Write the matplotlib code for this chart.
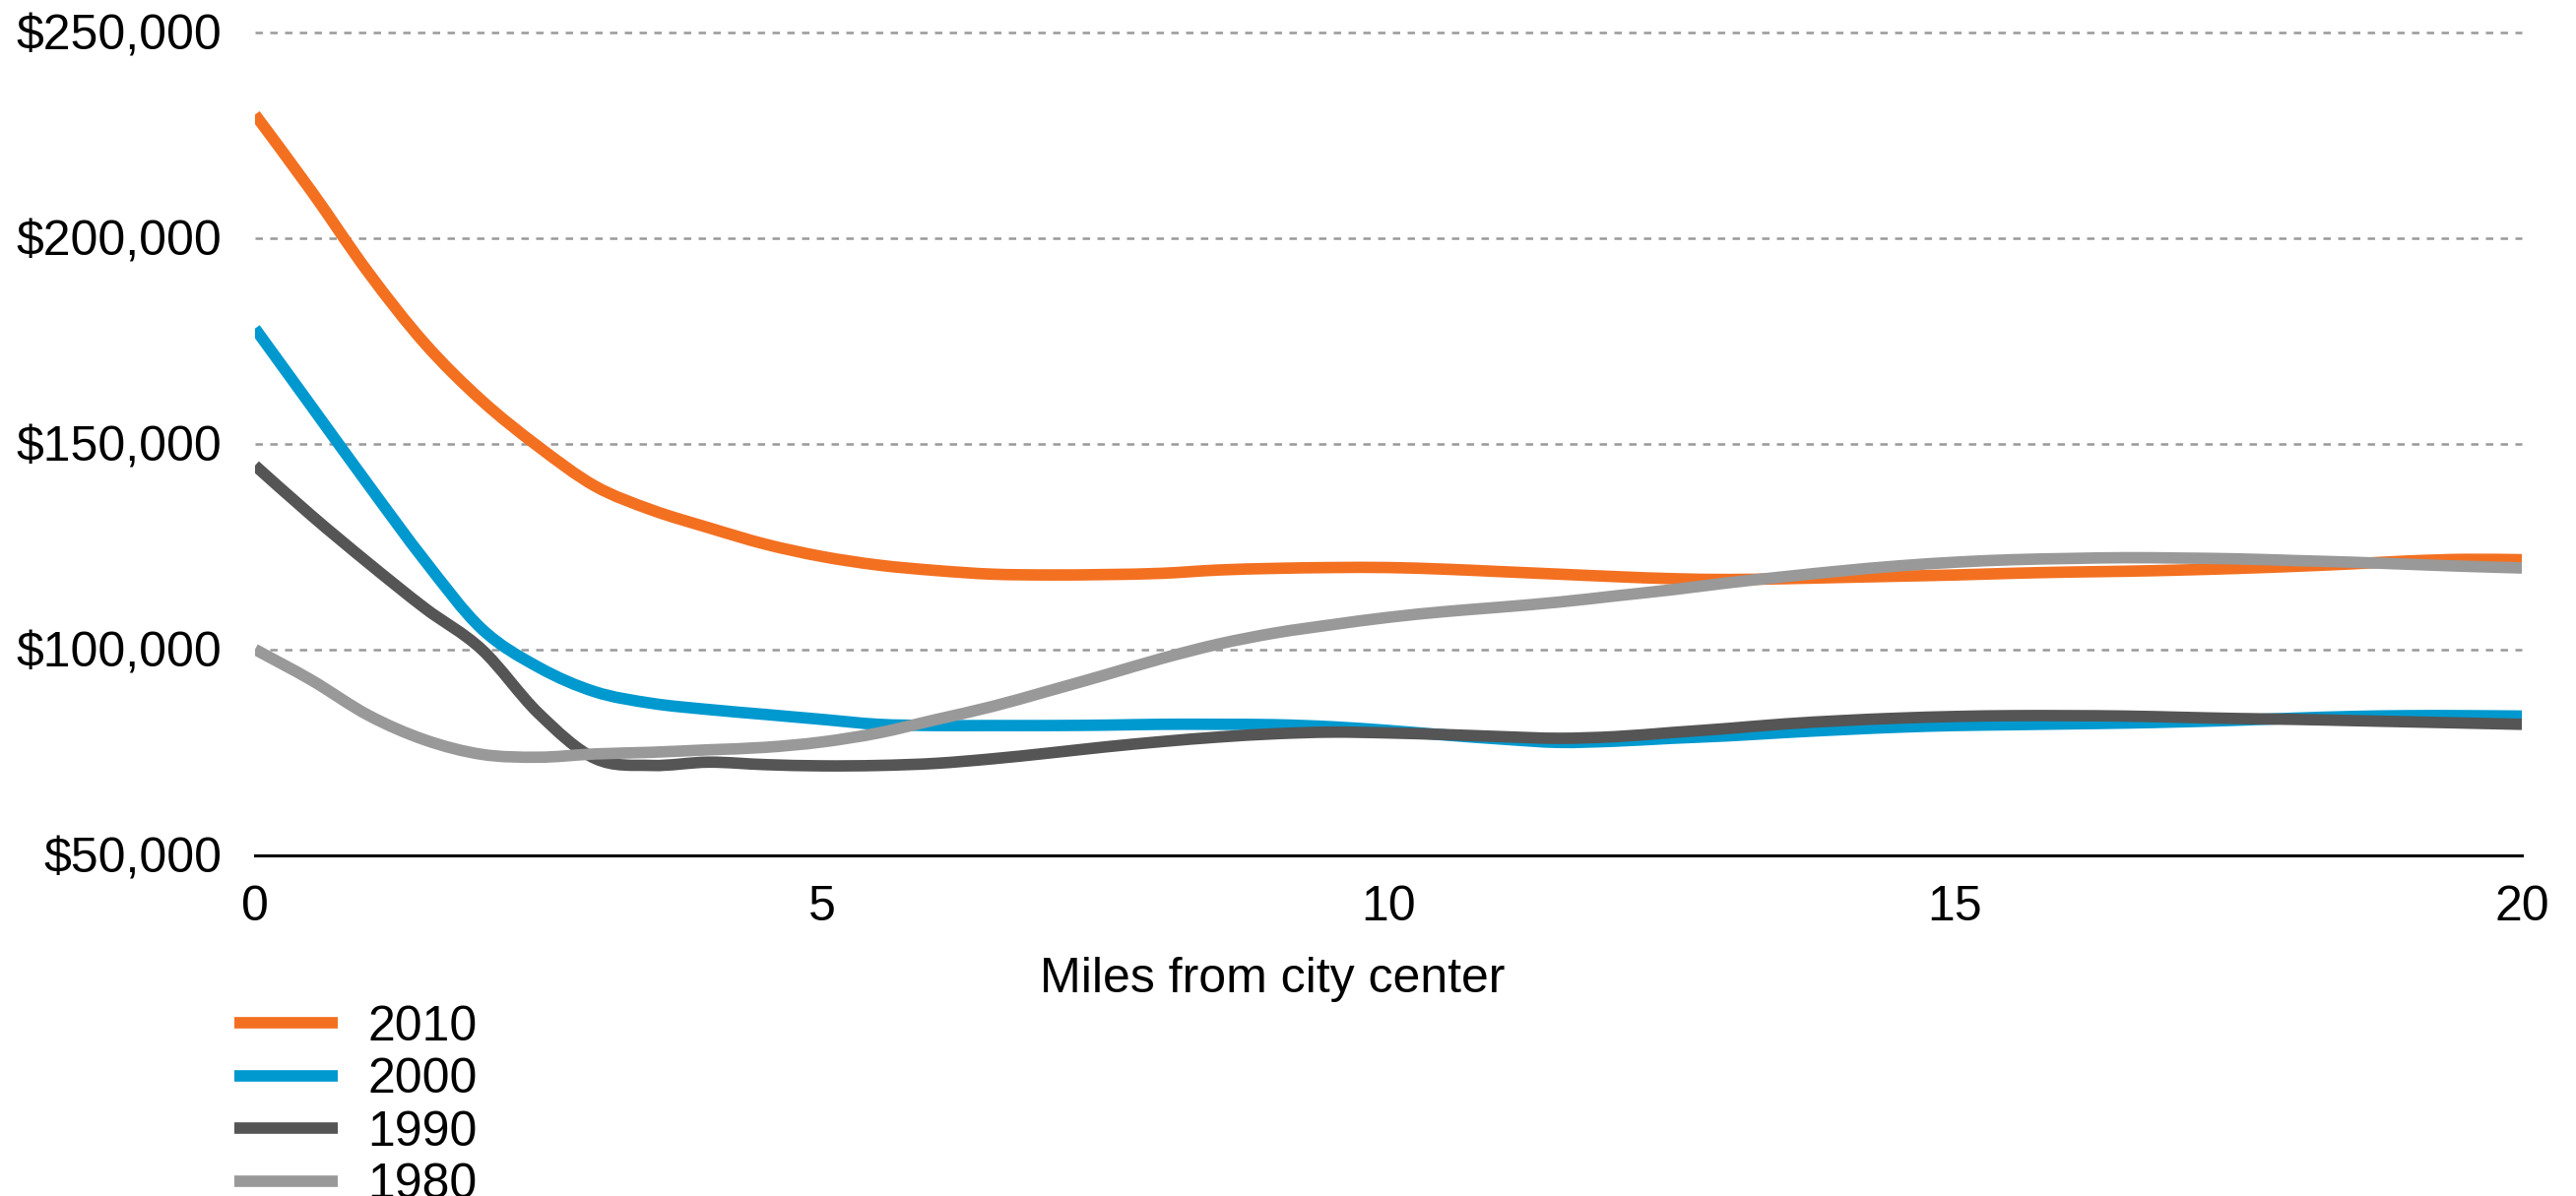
import matplotlib
matplotlib.use("Agg")
import matplotlib.pyplot as plt
from matplotlib.ticker import FuncFormatter
from matplotlib.path import Path
from matplotlib.patches import PathPatch
from matplotlib.lines import Line2D

plt.rcParams['font.family'] = ['Liberation Sans', 'DejaVu Sans']

# Distance from the city center (miles)
miles = [0, 0.5, 1, 1.5, 2, 2.5, 3, 3.5, 4, 4.5, 5, 5.5, 6, 6.5, 7, 7.5, 8, 8.5, 9, 9.5,
         10, 10.5, 11, 11.5, 12, 12.5, 13, 13.5, 14, 14.5, 15, 15.5, 16, 16.5, 17, 17.5,
         18, 18.5, 19, 19.5, 20]

# Median value by distance, in thousands of dollars
v2010 = [230, 211.3, 191.6, 174.3, 160.5, 149.3, 139.7, 133.9, 129.6, 125.6,
         122.6, 120.5, 119.2, 118.3, 118.1, 118.2, 118.5, 119.3, 119.7, 119.9,
         119.9, 119.5, 118.9, 118.3, 117.7, 117.2, 117, 117.2, 117.5, 117.8,
         118.1, 118.5, 118.8, 119, 119.3, 119.7, 120.2, 120.8, 121.5, 121.9, 121.8]
v2000 = [178, 159, 140, 121.5, 105, 95.7, 89.7, 86.9, 85.4, 84.2,
         83, 81.8, 81.5, 81.5, 81.5, 81.6, 81.8, 81.8, 81.7, 81.2,
         80.3, 79.2, 78.2, 77.4, 77.7, 78.4, 79, 79.8, 80.5, 81.1,
         81.5, 81.7, 81.9, 82.1, 82.4, 82.8, 83.3, 83.7, 83.9, 83.9, 83.8]
v1990 = [144.7, 132.5, 121, 110, 100, 84.5, 73.5, 71.8, 72.6, 72,
         71.7, 71.8, 72.3, 73.4, 74.8, 76.3, 77.6, 78.7, 79.5, 79.9,
         79.7, 79.3, 78.8, 78.4, 78.8, 79.8, 80.8, 81.9, 82.7, 83.3,
         83.7, 83.9, 83.9, 83.8, 83.5, 83.2, 83, 82.7, 82.4, 82.1, 81.8]
v1980 = [100, 92.5, 84, 78, 74.5, 73.8, 74.6, 75, 75.6, 76.2,
         77.5, 79.7, 82.9, 86.1, 89.9, 93.8, 97.8, 101.3, 104, 106,
         107.8, 109.2, 110.3, 111.5, 113, 114.5, 116.2, 117.7, 119.1, 120.3,
         121.2, 121.8, 122.1, 122.3, 122.2, 122, 121.6, 121.2, 120.7, 120.2, 119.8]

series = [("2010", v2010, "#F37021"),
          ("2000", v2000, "#0099CF"),
          ("1990", v1990, "#555555"),
          ("1980", v1980, "#999999")]

x_ticks = [0, 5, 10, 15, 20]
y_ticks = [50000, 100000, 150000, 200000, 250000]


def smooth_path(xs, ys):
    """Catmull-Rom curve through the points, expressed as cubic Bezier segments."""
    n = len(xs)
    verts = [(xs[0], ys[0])]
    codes = [Path.MOVETO]
    for i in range(n - 1):
        x0, y0 = (xs[i - 1], ys[i - 1]) if i > 0 else (xs[i], ys[i])
        x1, y1 = xs[i], ys[i]
        x2, y2 = xs[i + 1], ys[i + 1]
        x3, y3 = (xs[i + 2], ys[i + 2]) if i + 2 < n else (x2, y2)
        c1 = (x1 + (x2 - x0) / 6.0, y1 + (y2 - y0) / 6.0)
        c2 = (x2 - (x3 - x1) / 6.0, y2 - (y3 - y1) / 6.0)
        verts += [c1, c2, (x2, y2)]
        codes += [Path.CURVE4] * 3
    return Path(verts, codes)


fig = plt.figure(figsize=(13.08, 6.075), dpi=200)
ax = fig.add_axes([0.099, 0.285, 0.880, 0.688])

handles = []
for label, vals, color in series:
    path = smooth_path(miles, [v * 1000 for v in vals])
    ax.add_patch(PathPatch(path, fill=False, edgecolor=color, lw=4.2,
                           capstyle='butt', joinstyle='round'))
    handles.append(Line2D([], [], color=color, lw=4.2, solid_capstyle='butt', label=label))

ax.set_xlim(0, 20)
ax.set_ylim(50000, 250000)
ax.set_xticks(x_ticks)
ax.set_yticks(y_ticks)
ax.yaxis.set_major_formatter(FuncFormatter(lambda v, p: f"${v:,.0f}"))

for y in y_ticks[1:]:
    ax.axhline(y, color="#999999", lw=0.9, ls=(0, (3, 3)), zorder=0, clip_on=False)

for s in ("top", "right", "left"):
    ax.spines[s].set_visible(False)
ax.spines["bottom"].set_color("black")
ax.spines["bottom"].set_linewidth(1.1)

ax.tick_params(axis="both", length=0, labelsize=18, colors="black")
ax.tick_params(axis="y", pad=12)
ax.tick_params(axis="x", pad=11)

fig.text(0.494, 0.181, "Miles from city center", ha="center", va="center", fontsize=18)

fig.legend(handles=handles, loc="upper left", bbox_to_anchor=(0.091, 0.160), frameon=False,
           fontsize=18, handlelength=2.1, handletextpad=0.6, labelspacing=0.15, borderpad=0,
           borderaxespad=0)

fig.savefig("out.png", dpi=200)
